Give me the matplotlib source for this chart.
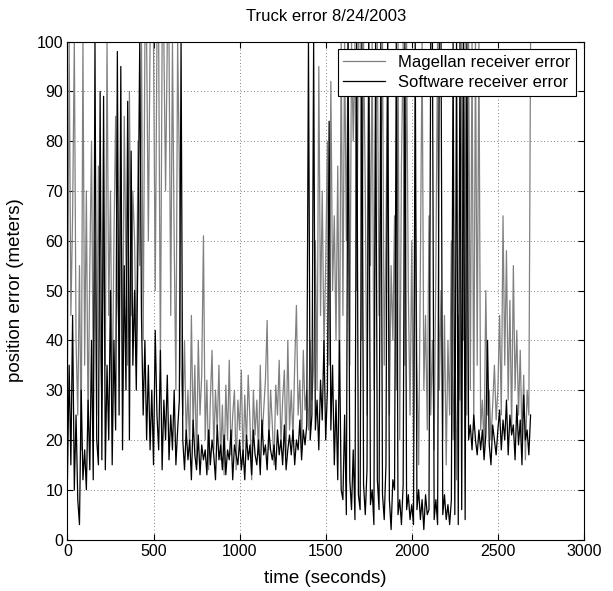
import numpy as np
import matplotlib.pyplot as plt

plt.rcParams['font.family'] = ['Liberation Sans', 'DejaVu Sans']

# samples every 10 s
time = np.arange(0, 2700, 10)

magellan = [
    30, 100, 45, 65, 100, 40, 25, 55, 18, 100,
    35, 70, 22, 55, 80, 30, 60, 25, 75, 40,
    28, 65, 35, 100, 45, 70, 25, 60, 85, 50,
    40, 75, 30, 85, 55, 35, 90, 45, 70, 60,
    35, 80, 55, 100, 40, 100, 100, 60, 100, 100,
    100, 50, 100, 100, 35, 100, 100, 70, 100, 100,
    45, 100, 60, 30, 100, 75, 35, 25, 40, 20,
    30, 18, 45, 22, 35, 15, 40, 25, 33, 61,
    20, 32, 14, 28, 38, 18, 30, 22, 35, 16,
    27, 13, 31, 20, 36, 17, 25, 30, 14, 28,
    22, 34, 15, 29, 19, 33, 24, 12, 30, 21,
    28, 17, 35, 20, 26, 32, 44, 18, 30, 23,
    15, 31, 25, 36, 19, 28, 34, 17, 40, 22,
    30, 20, 35, 47, 25, 32, 18, 38, 26, 30,
    22, 40, 28, 35, 60, 30, 95, 45, 70, 38,
    55, 80, 35, 92, 50, 65, 40, 75, 30, 100,
    45, 100, 60, 100, 35, 100, 80, 100, 50, 100,
    100, 40, 100, 70, 25, 100, 55, 100, 30, 85,
    100, 45, 70, 100, 35, 60, 100, 25, 55, 40,
    65, 30, 100, 20, 75, 100, 35, 100, 50, 25,
    60, 20, 70, 35, 15, 55, 100, 30, 45, 22,
    65, 25, 40, 18, 55, 100, 30, 50, 20, 45,
    15, 40, 25, 60, 20, 35, 12, 45, 28, 100,
    40, 100, 25, 100, 30, 100, 22, 100, 35, 100,
    22, 28, 18, 50, 25, 30, 20, 27, 35, 24,
    30, 45, 25, 65, 35, 58, 28, 48, 22, 55,
    30, 42, 25, 38, 20, 33, 16, 30, 25, 100,
]

software = [
    12, 35, 15, 45, 10, 25, 8, 3, 30, 12,
    18, 10, 28, 14, 40, 12, 100, 20, 15, 90,
    16, 89, 14, 35, 20, 50, 15, 40, 22, 98,
    25, 95, 18, 55, 30, 88, 20, 78, 35, 50,
    30, 60, 100, 45, 25, 40, 20, 35, 18, 30,
    15, 42, 25, 18, 38, 14, 28, 20, 33, 16,
    25, 18, 30, 15, 22, 28, 100, 20, 14, 22,
    16, 20, 12, 24, 17, 14, 21, 13, 19, 16,
    18, 13, 22, 15, 20, 17, 12, 23, 16, 19,
    14, 21, 13, 18, 16, 22, 12, 19, 17, 15,
    20, 14, 18, 12, 21, 16, 19, 13, 22, 17,
    15, 20, 13, 24, 17, 19, 14, 22, 18, 16,
    19, 14, 22, 17, 20, 15, 23, 14, 18, 21,
    17, 22, 15, 20, 18, 24, 16, 22, 19, 23,
    100, 20, 25, 100, 22, 28, 18, 32, 24, 40,
    20, 30, 84, 22, 35, 15, 28, 12, 40, 10,
    8, 25, 5, 100, 12, 6, 18, 4, 100, 9,
    6, 100, 11, 5, 14, 100, 7, 10, 3, 100,
    12, 6, 100, 9, 4, 15, 100, 8, 2, 12,
    10, 100, 5, 8, 3, 11, 100, 6, 9, 4,
    7, 3, 100, 6, 10, 4, 8, 2, 9, 5,
    6, 100, 100, 4, 8, 3, 100, 100, 5, 9,
    4, 7, 3, 8, 100, 5, 100, 3, 100, 6,
    100, 4, 100, 20, 23, 18, 25, 20, 17, 22,
    18, 22, 16, 21, 40, 19, 15, 23, 20, 17,
    22, 26, 18, 24, 20, 28, 17, 25, 21, 23,
    16, 27, 19, 24, 15, 29, 20, 22, 17, 25,
]

fig = plt.figure(figsize=(6.13, 5.91), dpi=100)
ax = fig.add_axes([0.110, 0.0871, 0.8426, 0.8426])

ax.plot(time, magellan, color='#808080', lw=0.9, label='Magellan receiver error')
ax.plot(time, software, color='black', lw=0.9, label='Software receiver error')

ax.set_xlim(0, 3000)
ax.set_ylim(0, 100)
ax.set_xticks(np.arange(0, 3001, 500))
ax.set_yticks(np.arange(0, 101, 10))
ax.tick_params(direction='in', labelsize=11.5, length=4, top=True, right=True, pad=3)
ax.grid(True, linestyle=(0, (1, 3)), color='#555555', lw=0.6)
for s in ax.spines.values():
    s.set_linewidth(0.8)

ax.set_xlabel('time (seconds)', fontsize=13.5, labelpad=8)
ax.set_ylabel('position error (meters)', fontsize=13.5, labelpad=9)
ax.set_title('Truck error 8/24/2003', fontsize=12, pad=15)

leg = ax.legend(loc='upper right', fontsize=12, fancybox=False, framealpha=1,
                edgecolor='black', borderpad=0.35, handlelength=2.5,
                labelspacing=0.3, borderaxespad=0.45)
leg.get_frame().set_linewidth(0.8)

fig.savefig('out.png', dpi=100)
